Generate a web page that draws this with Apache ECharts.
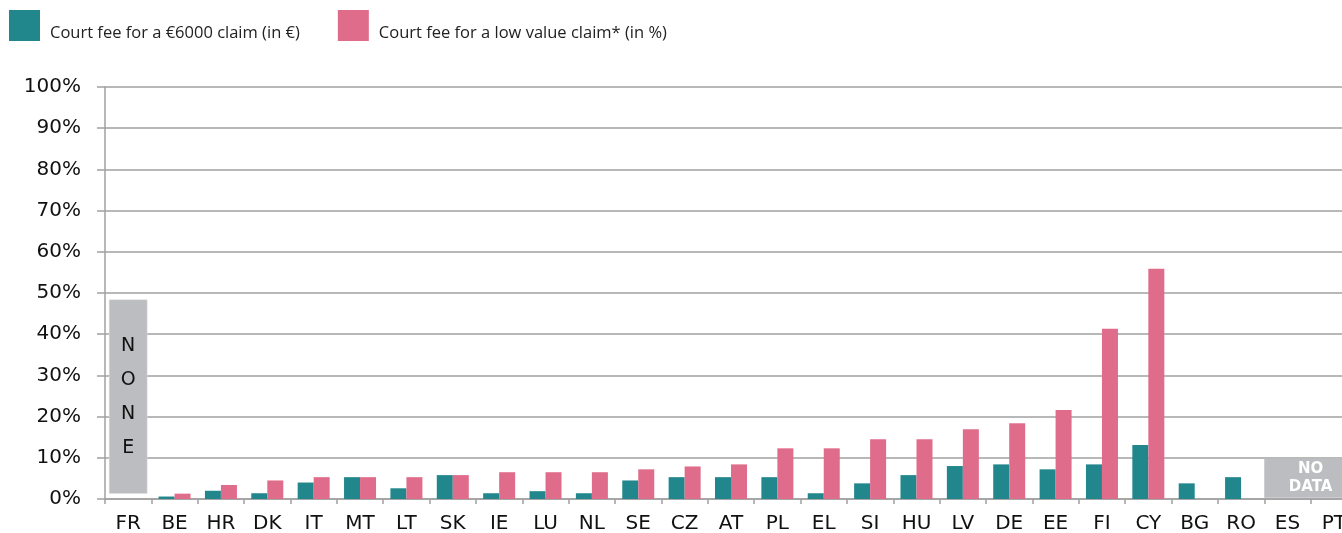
<!DOCTYPE html>
<html>
<head>
<meta charset="utf-8">
<script src="https://cdn.jsdelivr.net/npm/echarts@6/dist/echarts.min.js"></script>
<style>html,body{margin:0;padding:0;background:#fff}#c{width:1342px;height:533px}</style>
</head>
<body>
<div id="c"></div>
<script>
var categories = ['FR','BE','HR','DK','IT','MT','LT','SK','IE','LU','NL','SE','CZ','AT','PL','EL','SI','HU','LV','DE','EE','FI','CY','BG','RO','ES','PT'];
var fee6000 = [null,0.6,2.0,1.4,4.0,5.3,2.6,5.8,1.4,1.9,1.4,4.5,5.3,5.3,5.3,1.4,3.8,5.8,8.0,8.4,7.2,8.4,13.1,3.8,5.3,null,null];
var lowValue = [null,1.3,3.4,4.5,5.3,5.3,5.3,5.8,6.5,6.5,6.5,7.2,7.9,8.4,12.3,12.3,14.5,14.5,16.9,18.4,21.6,41.3,55.9,null,null,null,null];
var noneBase = [1.2,null,null,null,null,null,null,null,null,null,null,null,null,null,null,null,null,null,null,null,null,null,null,null,null,null,null];
var noneBox = [47.3,null,null,null,null,null,null,null,null,null,null,null,null,null,null,null,null,null,null,null,null,null,null,null,null,null,null];
var noDataRange = [['ES', 0.3], ['PT', 9.8]];
var yTicks = {min: 0, max: 100, interval: 10};
var seriesNames = ['Court fee for a €6000 claim (in €)', 'Court fee for a low value claim* (in %)'];

var chart = echarts.init(document.getElementById('c'), null, {renderer: 'canvas'});
var axisFont = {fontFamily: 'DejaVu Sans', fontSize: 20, color: '#111'};
chart.setOption({
  animation: false,
  legend: {
    left: 9, top: 10, padding: 0, itemWidth: 31, itemHeight: 31, itemGap: 38,
    icon: 'rect',
    data: seriesNames,
    formatter: '{t|{name}}',
    textStyle: {
      fontFamily: 'Open Sans', fontSize: 16.5, color: '#222',
      rich: {t: {fontFamily: 'Open Sans', fontSize: 16.5, color: '#222', padding: [15, 0, 0, 5]}}
    }
  },
  grid: {left: 105, top: 87, bottom: 34, right: -15, outerBoundsMode: 'none', containLabel: false},
  xAxis: [{
    type: 'category', data: categories,
    axisLine: {lineStyle: {color: '#a0a0a0', width: 1.5}},
    axisTick: {show: true, length: 5, interval: 0, lineStyle: {color: '#a0a0a0', width: 1.5}},
    axisLabel: Object.assign({interval: 0, margin: 15}, axisFont)
  }, {
    type: 'category', data: categories, show: false
  }],
  yAxis: {
    type: 'value', min: yTicks.min, max: yTicks.max, interval: yTicks.interval,
    axisLine: {show: true, lineStyle: {color: '#a0a0a0', width: 1.5}},
    axisTick: {show: true, length: 8, lineStyle: {color: '#a0a0a0', width: 1.5}},
    axisLabel: Object.assign({formatter: '{value}%', margin: 24}, axisFont),
    splitLine: {lineStyle: {color: '#a0a0a0', width: 1.5}}
  },
  series: [
    {name: seriesNames[0], type: 'bar', data: fee6000, barWidth: 16, barGap: '0%', itemStyle: {color: '#22878C'}, z: 3},
    {name: seriesNames[1], type: 'bar', data: lowValue, barWidth: 16, barGap: '0%', itemStyle: {color: '#E06C8C'}, z: 3},
    {name: 'noneBase', type: 'bar', xAxisIndex: 1, stack: 'none', data: noneBase, barWidth: 39, itemStyle: {color: 'transparent'}, silent: true},
    {name: 'none', type: 'bar', xAxisIndex: 1, stack: 'none', data: noneBox, barWidth: 39,
      itemStyle: {color: '#BCBDC0', borderColor: '#e2e2e2', borderWidth: 1, borderType: 'dotted'},
      label: {show: true, position: 'inside', formatter: 'N\nO\nN\nE', fontFamily: 'DejaVu Sans', fontSize: 19, lineHeight: 34, color: '#111'},
      markArea: {
        silent: true,
        itemStyle: {color: '#BCBDC0'},
        label: {show: true, position: 'inside', formatter: 'NO\nDATA', fontFamily: 'DejaVu Sans', fontSize: 15, fontWeight: 'bold', lineHeight: 18, color: '#fff'},
        data: [[{xAxis: noDataRange[0][0], yAxis: noDataRange[0][1]}, {xAxis: noDataRange[1][0], yAxis: noDataRange[1][1]}]]
      }
    }
  ]
});
</script>
</body>
</html>
